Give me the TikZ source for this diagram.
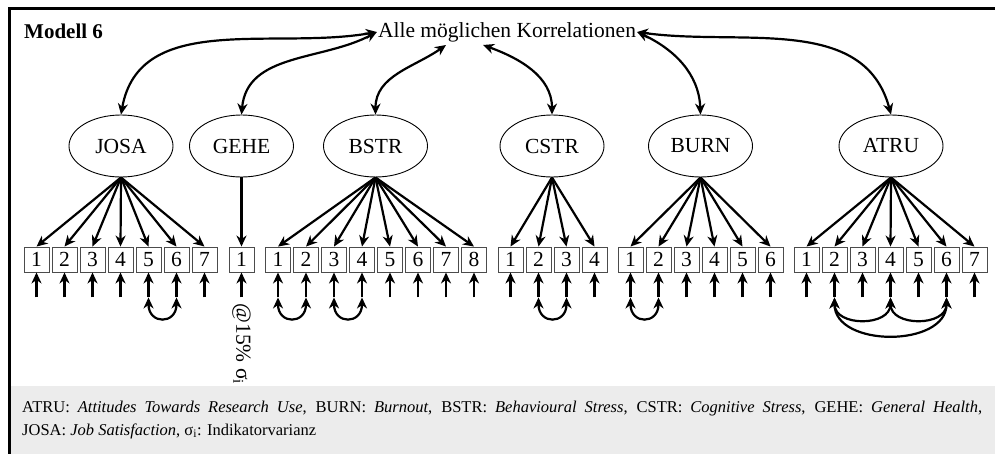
\documentclass[tikz,border=0pt]{standalone}
\usepackage{fontspec}
\setmainfont{Liberation Serif}
\usetikzlibrary{shapes.geometric,arrows.meta,calc}
\begin{document}
\begin{tikzpicture}[x=1pt,y=1pt,
  tip/.tip={Stealth[length=11pt,width=10pt,inset=3.5pt]},
  lat/.style={ellipse,draw=black,line width=0.9pt,minimum width=104pt,minimum height=62pt,inner sep=0pt,font=\fontsize{21.5}{24}\selectfont},
  ind/.style={rectangle,draw=black!70,line width=0.9pt,minimum width=25pt,minimum height=25pt,inner sep=0pt,font=\fontsize{21.5}{24}\selectfont},
  arr/.style={-tip,line width=2.2pt},
  darr/.style={tip-tip,line width=2.2pt},
  cor/.style={tip-tip,line width=2.2pt,out=-90,in=-90},
  ttl/.style={font=\fontsize{21.5}{24}\selectfont,inner sep=1pt},
  capt/.style={font=\fontsize{16.5}{19}\selectfont,anchor=base west,inner sep=0pt}
]
\useasboundingbox (0,0) rectangle (995,-453);
\fill[gray!15] (11,-386) rectangle (1000,-460);
\draw[line width=3pt,line join=miter] (9,-470) -- (9,-8) -- (1005,-8);

\node[font=\bfseries\fontsize{21}{24}\selectfont,anchor=west,inner sep=0pt] (modell) at (24,-31) {Modell 6};
\node[ttl] (alle) at (507,-32) {Alle möglichen Korrelationen};
\coordinate (aB) at (446,-45);
\coordinate (aC) at (483,-45);

\node[lat] (josa) at (121,-146) {JOSA};
\node[lat] (gehe) at (241.5,-146) {GEHE};
\node[lat] (bstr) at (375.5,-146) {BSTR};
\node[lat] (cstr) at (552,-146) {CSTR};
\node[lat] (burn) at (700.5,-146) {BURN};
\node[lat] (atru) at (891,-146) {ATRU};

\draw[darr] (josa.north) to[out=80,in=190] (alle.west);
\draw[darr] (gehe.north) to[out=85,in=208] (alle.west);
\draw[darr] (bstr.north) to[out=90,in=215] (aB);
\draw[darr] (cstr.north) to[out=90,in=-20] (aC);
\draw[darr] (burn.north) to[out=92,in=-25] (alle.east);
\draw[darr] (atru.north) to[out=105,in=-8] (alle.east);

\foreach \g/\x/\n in {josa/36.5/7, gehe/241.5/1, bstr/278/8, cstr/510.5/4, burn/630.5/6, atru/806.5/7} {
  \foreach \i in {1,...,\n} {
    \node[ind] (\g\i) at ({\x+28*(\i-1)},-259.5) {\i};
    \coordinate (e\g\i) at ($(\g\i.south)+(0,-25)$);
    \draw[arr] (e\g\i) -- (\g\i.south);
    \draw[arr] (\g.south) -- (\g\i.north);
  }
}

\draw[cor,looseness=2.5] (ejosa5) to (ejosa6);
\draw[cor,looseness=2.5] (ebstr1) to (ebstr2);
\draw[cor,looseness=2.5] (ebstr3) to (ebstr4);
\draw[cor,looseness=2.5] (ecstr2) to (ecstr3);
\draw[cor,looseness=2.5] (eburn1) to (eburn2);
\draw[cor,looseness=1.35] (eatru2) to (eatru4);
\draw[cor,looseness=1.35] (eatru4) to (eatru6);
\draw[cor,looseness=1.15] (eatru2) to (eatru6);

\node[ttl,rotate=-90,anchor=west] (lab) at ($(egehe1)+(0,-5)$) {@15\% σ\textsubscript{i}};

\node[capt] (cap1) at (22,-412) {\makebox[960pt][s]{ATRU: \textit{Attitudes Towards Research Use}, BURN: \textit{Burnout}, BSTR: \textit{Behavioural Stress}, CSTR: \textit{Cognitive Stress}, GEHE: \textit{General Health},}};
\node[capt] (cap2) at (22,-435) {JOSA: \textit{Job Satisfaction}, σ\textsubscript{i}: Indikatorvarianz};
\end{tikzpicture}
\end{document}
